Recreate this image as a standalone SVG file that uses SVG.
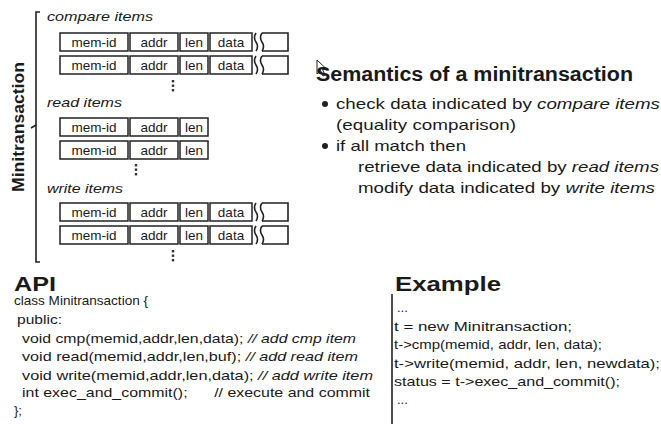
<svg xmlns="http://www.w3.org/2000/svg" width="661" height="424" viewBox="0 0 661 424">
<defs>
<style>
text{font-family:"Liberation Sans",Arial,sans-serif;fill:#1a1a1a}
.c{stroke:#222;stroke-width:1.5;fill:#fff}
.ct{font-size:13.5px;text-anchor:middle}
.lbl{font-size:13px;font-style:italic}
.h{font-weight:bold;font-size:20px}
.b{font-size:15px}
.code{font-size:13px}
.ln{stroke:#222;stroke-width:1.6;fill:none}
.dot{fill:#333}
</style>
<g id="row4">
<rect class="c" x="60" y="0" width="68" height="18"/>
<rect class="c" x="130" y="0" width="48" height="18"/>
<rect class="c" x="180" y="0" width="28" height="18"/>
<rect class="c" x="210" y="0" width="42" height="18"/>
<path class="ln" d="M256,0 q-3,4.5 0,9 q3,4.5 0,9 M262,0 q-3,4.5 0,9 q3,4.5 0,9"/>
<path class="ln" d="M262,0 H288 V18 H262"/>
<text class="ct" x="94" y="14">mem-id</text>
<text class="ct" x="154" y="14">addr</text>
<text class="ct" x="194" y="14">len</text>
<text class="ct" x="231" y="14">data</text>
</g>
<g id="row3">
<rect class="c" x="60" y="0" width="68" height="18"/>
<rect class="c" x="130" y="0" width="48" height="18"/>
<rect class="c" x="180" y="0" width="28" height="18"/>
<text class="ct" x="94" y="14">mem-id</text>
<text class="ct" x="154" y="14">addr</text>
<text class="ct" x="194" y="14">len</text>
</g>
<g id="vdots">
<rect class="dot" x="-1.2" y="0" width="2.4" height="2.4"/>
<rect class="dot" x="-1.2" y="4.5" width="2.4" height="2.4"/>
<rect class="dot" x="-1.2" y="9" width="2.4" height="2.4"/>
</g>
</defs>

<g id="bracket">
<path class="ln" d="M40,12 H36 V262 H40 M36,125 L31,128"/>
<text transform="translate(24,127) rotate(-90)" text-anchor="middle" font-weight="bold" font-size="17" textLength="130" lengthAdjust="spacingAndGlyphs">Minitransaction</text>
</g>

<g id="compare-items">
<text class="lbl" x="47" y="21" textLength="106" lengthAdjust="spacingAndGlyphs">compare items</text>
<use href="#row4" y="33"/>
<use href="#row4" y="56"/>
<use href="#vdots" x="173" y="80"/>
</g>

<g id="read-items">
<text class="lbl" x="47" y="107" textLength="75" lengthAdjust="spacingAndGlyphs">read items</text>
<use href="#row3" y="118"/>
<use href="#row3" y="141"/>
<use href="#vdots" x="136" y="164"/>
</g>

<g id="write-items">
<text class="lbl" x="47" y="193" textLength="76" lengthAdjust="spacingAndGlyphs">write items</text>
<use href="#row4" y="203"/>
<use href="#row4" y="226"/>
<use href="#vdots" x="173" y="250"/>
</g>

<g id="semantics">
<path d="M317,60 L317,74 L320.5,70.5 L323,76 L325,75 L322.5,69.5 L327,69.5 Z" fill="#fff" stroke="#222" stroke-width="1"/>
<text class="h" x="316" y="81" font-size="18.5" textLength="317" lengthAdjust="spacingAndGlyphs">Semantics of a minitransaction</text>
<circle cx="325" cy="104" r="3" fill="#222"/>
<text class="b" x="336" y="109" textLength="324" lengthAdjust="spacingAndGlyphs">check data indicated by <tspan font-style="italic">compare items</tspan></text>
<text class="b" x="336" y="130" textLength="180" lengthAdjust="spacingAndGlyphs">(equality comparison)</text>
<circle cx="325" cy="146" r="3" fill="#222"/>
<text class="b" x="336" y="151" textLength="130" lengthAdjust="spacingAndGlyphs">if all match then</text>
<text class="b" x="358" y="172" textLength="301" lengthAdjust="spacingAndGlyphs">retrieve data indicated by <tspan font-style="italic">read items</tspan></text>
<text class="b" x="358" y="193" textLength="297" lengthAdjust="spacingAndGlyphs">modify data indicated by <tspan font-style="italic">write items</tspan></text>
</g>

<g id="api">
<text class="h" x="14" y="291" textLength="42" lengthAdjust="spacingAndGlyphs">API</text>
<text class="code" x="14" y="305" textLength="134" lengthAdjust="spacingAndGlyphs">class Minitransaction {</text>
<text class="code" x="17" y="324" textLength="45" lengthAdjust="spacingAndGlyphs">public:</text>
<text class="code" x="22" y="343" textLength="334" lengthAdjust="spacingAndGlyphs">void cmp(memid,addr,len,data); <tspan font-style="italic">// add  cmp item</tspan></text>
<text class="code" x="22" y="361" textLength="336" lengthAdjust="spacingAndGlyphs">void read(memid,addr,len,buf); <tspan font-style="italic">// add read item</tspan></text>
<text class="code" x="22" y="380" textLength="351" lengthAdjust="spacingAndGlyphs">void write(memid,addr,len,data); <tspan font-style="italic">// add write item</tspan></text>
<text class="code" x="22" y="397" textLength="348" lengthAdjust="spacingAndGlyphs" xml:space="preserve">int exec_and_commit();      // execute and commit</text>
<text class="code" x="14" y="415">};</text>
</g>

<g id="example">
<text class="h" x="395" y="291" textLength="106" lengthAdjust="spacingAndGlyphs">Example</text>
<line class="ln" x1="392" y1="294" x2="392" y2="424"/>
<text class="code" x="397" y="312">...</text>
<text class="code" x="394" y="331" textLength="178" lengthAdjust="spacingAndGlyphs">t = new Minitransaction;</text>
<text class="code" x="394" y="349" textLength="208" lengthAdjust="spacingAndGlyphs">t-&gt;cmp(memid, addr, len, data);</text>
<text class="code" x="394" y="368" textLength="266" lengthAdjust="spacingAndGlyphs">t-&gt;write(memid, addr, len, newdata);</text>
<text class="code" x="394" y="386" textLength="226" lengthAdjust="spacingAndGlyphs">status = t-&gt;exec_and_commit();</text>
<text class="code" x="397" y="404">...</text>
</g>
</svg>
